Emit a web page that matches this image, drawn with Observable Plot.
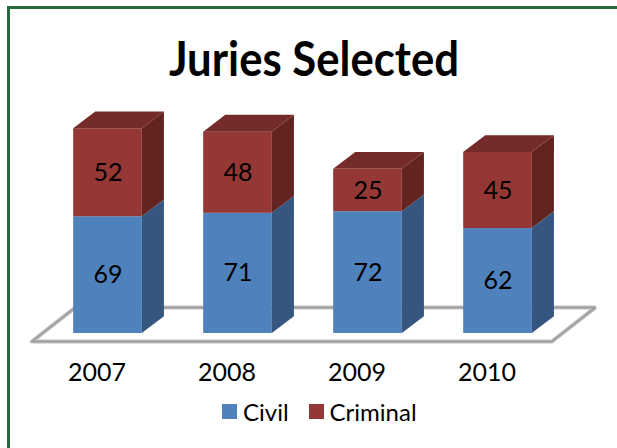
<!DOCTYPE html>
<html>
<head>
<meta charset="utf-8">
<script src="https://cdn.jsdelivr.net/npm/d3@7"></script>
<script src="https://cdn.jsdelivr.net/npm/@observablehq/plot@0.6"></script>
<style>
  html, body { margin: 0; padding: 0; background: #fff; }
  #wrap { position: relative; width: 617px; height: 448px; overflow: hidden; background: #fff; font-family: Lato, "Open Sans", sans-serif; }
  #frame { position: absolute; left: 7px; top: 6px; right: -10px; bottom: -10px; border-left: 3px solid #26683a; border-top: 3px solid #26683a; }
  #title { position: absolute; left: 0; width: 628px; top: 30px; text-align: center; font-weight: 700; font-size: 47px; color: #000; transform: scaleX(0.93); transform-origin: 314px 0; }
  #plot { position: absolute; left: 0; top: 0; }
  #legend { position: absolute; left: 222px; top: 397px; display: flex; align-items: center; font-size: 24px; color: #000; }
  .sw { display: inline-block; width: 15px; height: 15px; margin-right: 6px; }
  .item { display: flex; align-items: center; margin-right: 20px; }
</style>
</head>
<body>
<div id="wrap">
  <div id="frame"></div>
  <div id="title">Juries Selected</div>
  <div id="plot"></div>
  <div id="legend"></div>
</div>
<script>
// ---- data ----
const years = ["2007", "2008", "2009", "2010"];
const civil = [69, 71, 72, 62];
const criminal = [52, 48, 25, 45];
const seriesNames = ["Civil", "Criminal"];
const frontColors = ["#4f81bd", "#953735"];
const sideColors = ["#35567f", "#622321"];
const topColor = "#742b29";

// ---- geometry helpers (data units) ----
const HW = 0.264;   // half bar width in x-units
const DX = 0.17;    // depth offset x
const DY = 9.9;     // depth offset y

const segs = [];
years.forEach((yr, i) => {
  const vals = [civil[i], criminal[i]];
  let base = 0;
  vals.forEach((v, s) => {
    segs.push({i, year: yr, series: seriesNames[s], s, value: v, y1: base, y2: base + v});
    base += v;
  });
});

// side faces: parallelograms with vertical edges
const sidePts = [];
segs.forEach((d, k) => {
  const xr = d.i + HW;
  sidePts.push({k, s: d.s, x: xr, y1: d.y1, y2: d.y2});
  sidePts.push({k, s: d.s, x: xr + DX, y1: d.y1 + DY, y2: d.y2 + DY});
});
// top faces (only the top segment is visible)
const topPts = [];
segs.filter(d => d.s === 1).forEach((d, k) => {
  topPts.push({k, y: d.y2, x1: d.i - HW, x2: d.i + HW});
  topPts.push({k, y: d.y2 + DY, x1: d.i - HW + DX, x2: d.i + HW + DX});
});

// floor outline
const x0 = -0.5, x1 = years.length - 0.5;
const fF = {dx: -0.085, dy: -4.7};  // front offset
const fB = {dx: 0.25, dy: 15.4};    // back offset
const floor = [
  {x: x0 + fF.dx, y: fF.dy},
  {x: x1 + fF.dx, y: fF.dy},
  {x: x1 + fB.dx, y: fB.dy},
  {x: x0 + fB.dx, y: fB.dy},
  {x: x0 + fF.dx, y: fF.dy}
];

const chart = Plot.plot({
  width: 617,
  height: 448,
  marginLeft: 42.5,
  marginRight: 54.5,
  marginTop: 28.4,
  marginBottom: 115,
  style: {fontFamily: "Lato, 'Open Sans', sans-serif", background: "transparent", overflow: "visible"},
  x: {type: "linear", domain: [x0, x1], axis: null},
  y: {domain: [0, 180], axis: null},
  color: {type: "identity"},
  marks: [
    Plot.line(floor, {x: "x", y: "y", stroke: "#bdbdbd", strokeWidth: 4, strokeLinejoin: "miter"}),
    Plot.line(floor, {x: "x", y: "y", stroke: "#9c9c9c", strokeWidth: 1.5, strokeLinejoin: "miter"}),
    Plot.rect(segs, {x1: d => d.i - HW, x2: d => d.i + HW, y1: "y1", y2: "y2", fill: d => frontColors[d.s]}),
    Plot.areaY(sidePts, {x: "x", y1: "y1", y2: "y2", z: "k", fill: d => sideColors[d.s]}),
    Plot.areaX(topPts, {y: "y", x1: "x1", x2: "x2", z: "k", fill: topColor}),
    Plot.text(segs, {x: "i", y: d => (d.y1 + d.y2) / 2, text: d => String(d.value), fontSize: 25, fill: "#000"}),
    Plot.text(years, {x: (d, i) => i, text: d => d, frameAnchor: "bottom", dy: 47, dx: -11, fontSize: 25, fill: "#000"})
  ]
});
document.getElementById("plot").appendChild(chart);

// legend
const legend = document.getElementById("legend");
seriesNames.forEach((n, s) => {
  const it = document.createElement("span");
  it.className = "item";
  it.innerHTML = `<span class="sw" style="background:${frontColors[s]}"></span><span>${n}</span>`;
  legend.appendChild(it);
});
</script>
</body>
</html>
